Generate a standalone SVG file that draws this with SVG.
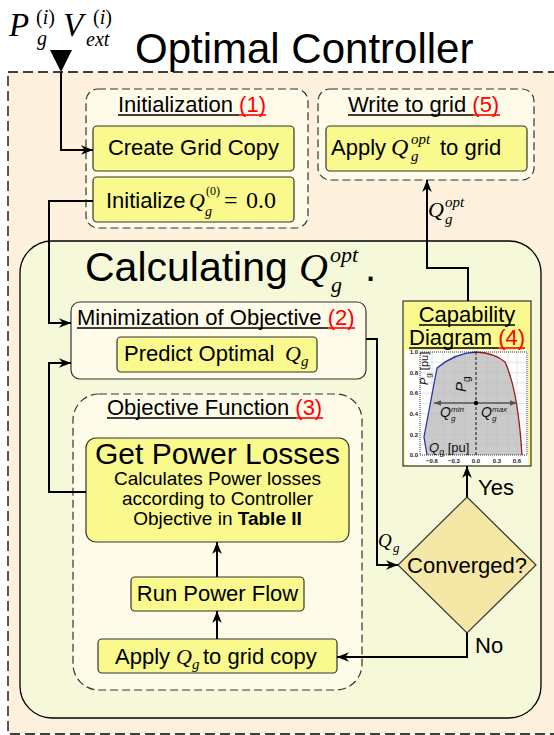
<svg xmlns="http://www.w3.org/2000/svg" width="554" height="735" viewBox="0 0 554 735">
<style>
.sans{font-family:"Liberation Sans",Arial,sans-serif;fill:#000}
.m{font-family:"Liberation Serif","Times New Roman",serif;font-style:italic;fill:#000}
.mu{font-family:"Liberation Serif","Times New Roman",serif;fill:#000}
.t22{font-size:22px}
.red{fill:#ff0000}
.dash{fill:#fefce9;stroke:#333;stroke-width:1.2;stroke-dasharray:8,4}
.ybox{fill:#f9f98d;stroke:#333;stroke-width:1.2}
.ul{stroke:#000;stroke-width:1.6}
.ulr{stroke:#ff0000;stroke-width:1.6}
.conn{fill:none;stroke:#000;stroke-width:2}
.tick{font-family:"Liberation Sans",Arial,sans-serif;font-size:6px;font-weight:bold;fill:#222}
.grid{stroke:#d0d0d0;stroke-width:0.6}
</style>
<defs>
<marker id="arr" viewBox="0 0 10 8" refX="10" refY="4" markerWidth="12" markerHeight="10" markerUnits="userSpaceOnUse" orient="auto">
<path d="M0,0 L10,4 L0,8 L3,4 z" fill="#000"/>
</marker>
<marker id="garr" viewBox="0 0 10 8" refX="10" refY="4" markerWidth="7" markerHeight="6" markerUnits="userSpaceOnUse" orient="auto-start-reverse">
<path d="M0,0 L10,4 L0,8 z" fill="#555"/>
</marker>
</defs>

<rect width="554" height="735" fill="#ffffff"/>

<g id="controller">
<rect x="8" y="72" width="560" height="662" fill="#fdf1de" stroke="#000" stroke-width="1.3" stroke-dasharray="10,5"/>
<text class="sans" x="135" y="63" font-size="42">Optimal Controller</text>
</g>

<g id="input-label">
<text class="m" x="9" y="36" font-size="33">P</text>
<text x="36" y="24" font-size="20"><tspan class="mu">(</tspan><tspan class="m">i</tspan><tspan class="mu">)</tspan></text>
<text class="m" x="37" y="45" font-size="20">g</text>
<text class="m" x="63" y="36" font-size="33">V</text>
<text x="93" y="24" font-size="20"><tspan class="mu">(</tspan><tspan class="m">i</tspan><tspan class="mu">)</tspan></text>
<text class="m" x="86" y="46" font-size="20">ext</text>
</g>

<g id="initialization">
<rect class="dash" x="86" y="89" width="222" height="139" rx="12"/>
<text class="sans t22" x="118" y="112">Initialization <tspan class="red">(1)</tspan></text>
<line class="ul" x1="118" y1="115" x2="239" y2="115"/>
<line class="ulr" x1="239" y1="115" x2="266" y2="115"/>
</g>
<g id="create-grid-copy">
<rect class="ybox" x="93" y="126" width="201" height="45" rx="4"/>
<text class="sans t22" x="193.5" y="155" text-anchor="middle">Create Grid Copy</text>
</g>
<g id="initialize">
<rect class="ybox" x="93" y="177" width="201" height="45" rx="4"/>
<text class="sans t22" x="106" y="208">Initialize</text>
<text class="m" x="189" y="208" font-size="22">Q</text>
<text class="mu" x="206" y="195" font-size="12">(0)</text>
<text class="m" x="205" y="216" font-size="14">g</text>
<text class="mu" x="224" y="208" font-size="24">=</text>
<text class="mu" x="246" y="208" font-size="24">0.0</text>
</g>

<g id="write-to-grid">
<rect class="dash" x="318" y="89" width="216" height="91" rx="12"/>
<text class="sans t22" x="348" y="112">Write to grid <tspan class="red">(5)</tspan></text>
<line class="ul" x1="348" y1="115" x2="473" y2="115"/>
<line class="ulr" x1="473" y1="115" x2="500" y2="115"/>
</g>
<g id="apply-qopt">
<rect class="ybox" x="326" y="126" width="201" height="45" rx="4"/>
<text class="sans t22" x="331" y="155">Apply</text>
<text class="m" x="391" y="155" font-size="24">Q</text>
<text class="m" x="411" y="144" font-size="15">opt</text>
<text class="m" x="411" y="161" font-size="15">g</text>
<text class="sans t22" x="440" y="155">to grid</text>
</g>

<g id="calculating">
<rect x="20" y="241" width="521" height="477" rx="32" fill="#f6f9d9" stroke="#000" stroke-width="1.3"/>
<text class="sans" x="85" y="281" font-size="41">Calculating</text>
<text class="m" x="299" y="281" font-size="40">Q</text>
<text class="m" x="330" y="262" font-size="22">opt</text>
<text class="m" x="331" y="292" font-size="22">g</text>
<text class="sans" x="365" y="281" font-size="40">.</text>
</g>

<g id="minimization">
<rect x="71" y="302" width="295" height="77" rx="9" fill="#fefce9" stroke="#333" stroke-width="1.2"/>
<text class="sans t22" x="77" y="325">Minimization of Objective <tspan class="red">(2)</tspan></text>
<line class="ul" x1="77" y1="328" x2="328" y2="328"/>
<line class="ulr" x1="328" y1="328" x2="355" y2="328"/>
</g>
<g id="predict">
<rect class="ybox" x="117" y="337" width="200" height="35" rx="4"/>
<text class="sans t22" x="124" y="361">Predict Optimal</text>
<text class="m" x="285" y="361" font-size="22">Q</text>
<text class="m" x="301" y="366" font-size="15">g</text>
</g>

<g id="objective-function">
<rect class="dash" x="73" y="394" width="289" height="296" rx="26"/>
<text class="sans t22" x="107" y="415">Objective Function <tspan class="red">(3)</tspan></text>
<line class="ul" x1="107" y1="418" x2="296" y2="418"/>
<line class="ulr" x1="296" y1="418" x2="323" y2="418"/>
</g>
<g id="get-power-losses">
<rect class="ybox" x="86" y="438" width="263" height="104" rx="10"/>
<text class="sans" x="217.5" y="464" font-size="30" text-anchor="middle">Get Power Losses</text>
<text class="sans" x="217.5" y="485" font-size="19" text-anchor="middle">Calculates Power losses</text>
<text class="sans" x="217.5" y="505" font-size="19" text-anchor="middle">according to Controller</text>
<text class="sans" x="217.5" y="525" font-size="19" text-anchor="middle">Objective in <tspan font-weight="bold">Table II</tspan></text>
</g>
<g id="run-power-flow">
<rect class="ybox" x="131" y="577" width="173" height="34" rx="4"/>
<text class="sans t22" x="217.5" y="601" text-anchor="middle">Run Power Flow</text>
</g>
<g id="apply-qg">
<rect class="ybox" x="98" y="639" width="239" height="34" rx="4"/>
<text class="sans t22" x="115" y="664">Apply</text>
<text class="m" x="176" y="664" font-size="22">Q</text>
<text class="m" x="192" y="669" font-size="15">g</text>
<text class="sans t22" x="203" y="664">to grid copy</text>
</g>

<g id="converged">
<polygon points="467,497 536,565 467,633 398,565" fill="#f5e7a6" stroke="#333" stroke-width="1.2"/>
<text class="sans t22" x="467" y="573" text-anchor="middle">Converged?</text>
</g>

<g id="capability-diagram">
<rect class="ybox" x="403" y="301" width="128" height="165"/>
<text class="sans t22" x="467" y="322" text-anchor="middle">Capability</text>
<line class="ul" x1="419" y1="325" x2="515" y2="325"/>
<text class="sans t22" x="409" y="345">Diagram <tspan class="red">(4)</tspan></text>
<line class="ul" x1="409" y1="348" x2="498" y2="348"/>
<line class="ulr" x1="498" y1="348" x2="525" y2="348"/>
<rect x="405" y="350" width="123" height="115" fill="#ffffff"/>
<rect x="420" y="352" width="107" height="103" fill="#ffffff"/>
<g>
<line class="grid" x1="432" y1="352" x2="432" y2="455"/>
<line class="grid" x1="443" y1="352" x2="443" y2="455"/>
<line class="grid" x1="454" y1="352" x2="454" y2="455"/>
<line class="grid" x1="465" y1="352" x2="465" y2="455"/>
<line class="grid" x1="487" y1="352" x2="487" y2="455"/>
<line class="grid" x1="497" y1="352" x2="497" y2="455"/>
<line class="grid" x1="508" y1="352" x2="508" y2="455"/>
<line class="grid" x1="517" y1="352" x2="517" y2="455"/>
<line class="grid" x1="420" y1="362.3" x2="527" y2="362.3"/>
<line class="grid" x1="420" y1="372.6" x2="527" y2="372.6"/>
<line class="grid" x1="420" y1="382.9" x2="527" y2="382.9"/>
<line class="grid" x1="420" y1="393.2" x2="527" y2="393.2"/>
<line class="grid" x1="420" y1="403.5" x2="527" y2="403.5"/>
<line class="grid" x1="420" y1="413.8" x2="527" y2="413.8"/>
<line class="grid" x1="420" y1="424.1" x2="527" y2="424.1"/>
<line class="grid" x1="420" y1="434.4" x2="527" y2="434.4"/>
<line class="grid" x1="420" y1="444.7" x2="527" y2="444.7"/>
</g>
<path d="M427,455 L424,437 L437,368 Q455,353 476,352 Q495,353 505,362 Q518,390 522,455 Z" fill="#b8b8b8" fill-opacity="0.75"/>
<path d="M427,455 L424,437 L437,368 Q455,353 476,352" fill="none" stroke="#2a35a8" stroke-width="1.3"/>
<path d="M476,352 Q495,353 505,362 Q518,390 522,455" fill="none" stroke="#9a1c1c" stroke-width="1.3"/>
<line x1="476" y1="352" x2="476" y2="455" stroke="#000" stroke-width="0.9" stroke-dasharray="3,2"/>
<line x1="434" y1="403" x2="517" y2="403" stroke="#555" stroke-width="1.4" marker-start="url(#garr)" marker-end="url(#garr)"/>
<circle cx="476" cy="403" r="2.2" fill="#000"/>
<rect x="420" y="352" width="107" height="103" fill="none" stroke="#000" stroke-width="0.8" stroke-dasharray="1,1"/>
<text class="tick" x="418" y="354" text-anchor="end">1.0</text>
<text class="tick" x="418" y="375" text-anchor="end">0.8</text>
<text class="tick" x="418" y="395" text-anchor="end">0.6</text>
<text class="tick" x="418" y="416" text-anchor="end">0.4</text>
<text class="tick" x="418" y="437" text-anchor="end">0.2</text>
<text class="tick" x="418" y="457" text-anchor="end">0.0</text>
<text class="tick" x="432" y="463" text-anchor="middle">−0.6</text>
<text class="tick" x="454" y="463" text-anchor="middle">−0.3</text>
<text class="tick" x="476" y="463" text-anchor="middle">0.0</text>
<text class="tick" x="497" y="463" text-anchor="middle">0.3</text>
<text class="tick" x="517" y="463" text-anchor="middle">0.6</text>
<text transform="translate(428,385) rotate(-90)" font-family="Liberation Sans,Arial,sans-serif" font-size="11" fill="#111"><tspan font-style="italic">P</tspan><tspan font-size="8" dy="3">g</tspan><tspan dy="-3"> [pu]</tspan></text>
<text transform="translate(466,392) rotate(-90)" font-family="Liberation Sans,Arial,sans-serif" font-size="15" fill="#111"><tspan font-style="italic">P</tspan><tspan font-size="10" dy="4">g</tspan></text>
<text x="440" y="417" font-family="Liberation Sans,Arial,sans-serif" font-size="14" fill="#111" font-style="italic">Q</text>
<text x="451" y="412" font-family="Liberation Sans,Arial,sans-serif" font-size="8" fill="#111" font-style="italic">min</text>
<text x="451" y="421" font-family="Liberation Sans,Arial,sans-serif" font-size="8" fill="#111" font-style="italic">g</text>
<text x="481" y="417" font-family="Liberation Sans,Arial,sans-serif" font-size="14" fill="#111" font-style="italic">Q</text>
<text x="492" y="412" font-family="Liberation Sans,Arial,sans-serif" font-size="8" fill="#111" font-style="italic">max</text>
<text x="492" y="421" font-family="Liberation Sans,Arial,sans-serif" font-size="8" fill="#111" font-style="italic">g</text>
<text x="429" y="452" font-family="Liberation Sans,Arial,sans-serif" font-size="13" fill="#111"><tspan font-style="italic">Q</tspan><tspan font-size="9" dy="3">g</tspan><tspan dy="-3"> [pu]</tspan></text>
</g>

<g id="connectors">
<polygon points="50,50 72,50 61,72" fill="#000"/>
<path class="conn" d="M61,72 V150 H93" marker-end="url(#arr)"/>
<path class="conn" d="M93,201 H49 V323 H71" marker-end="url(#arr)"/>
<path class="conn" d="M86,492 H49 V363 H71" marker-end="url(#arr)"/>
<path class="conn" d="M366,339 H377 V565 H398" marker-end="url(#arr)"/>
<path class="conn" d="M467,497 V466" marker-end="url(#arr)"/>
<path class="conn" d="M467,633 V657 H337" marker-end="url(#arr)"/>
<path class="conn" d="M217,577 V542" marker-end="url(#arr)"/>
<path class="conn" d="M217,639 V611" marker-end="url(#arr)"/>
<path class="conn" d="M468,301 V268 H427 V180" marker-end="url(#arr)"/>
<text class="m" x="428" y="217" font-size="22">Q</text>
<text class="m" x="445" y="207" font-size="15">opt</text>
<text class="m" x="445" y="224" font-size="15">g</text>
<text class="m" x="378" y="547" font-size="19">Q</text>
<text class="m" x="393" y="552" font-size="13">g</text>
<text class="sans t22" x="478" y="495">Yes</text>
<text class="sans t22" x="475" y="653">No</text>
</g>
</svg>
